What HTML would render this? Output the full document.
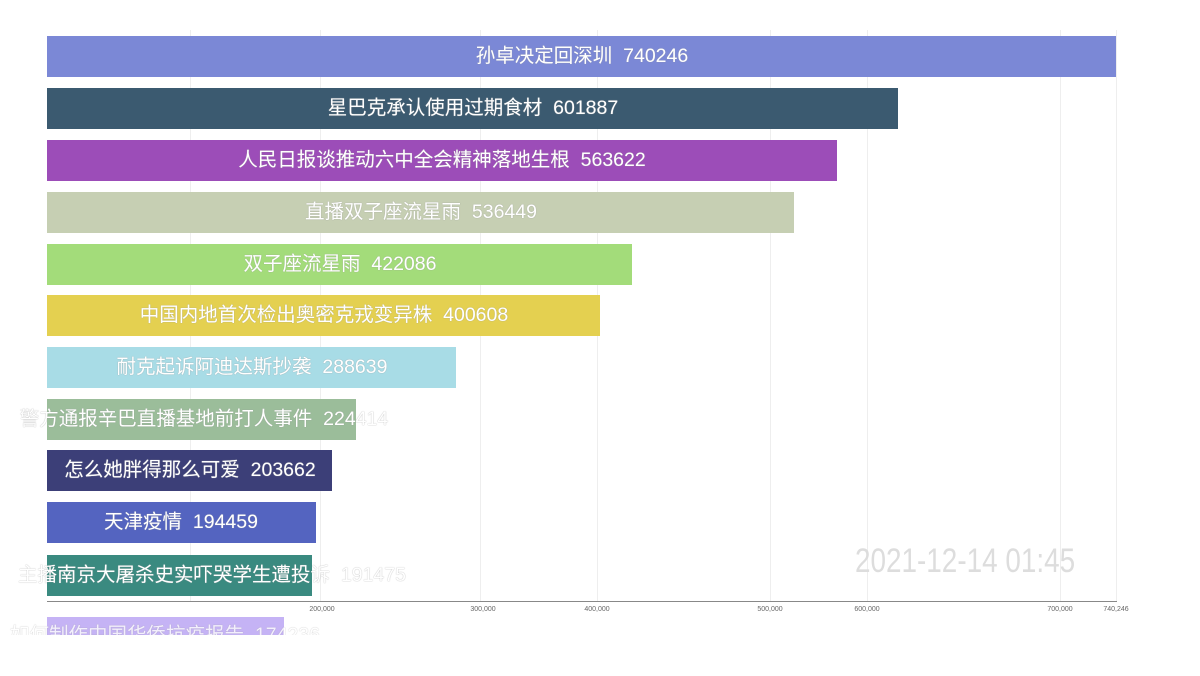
<!DOCTYPE html>
<html><head><meta charset="utf-8"><style>
body{margin:0;width:1200px;height:675px;background:#fff;overflow:hidden;position:relative;font-family:"Liberation Sans","Noto Sans CJK SC",sans-serif}
.g{position:absolute;top:30px;height:571px;width:1px;background:#eee}
.b{position:absolute;left:47px;height:41px}
.t{position:absolute;height:41px;line-height:41px;color:#fff;font-size:19.5px;white-space:nowrap;text-shadow:0 0 1px #999;transform:translateX(-50%)}
.tk{position:absolute;top:606px;font-size:7px;color:#666;transform:translateX(-50%)}
</style></head><body>
<div class="g" style="left:190px"></div><div class="g" style="left:320px"></div><div class="g" style="left:480px"></div><div class="g" style="left:597px"></div><div class="g" style="left:770px"></div><div class="g" style="left:867px"></div><div class="g" style="left:1060px"></div><div class="g" style="left:1116px"></div>
<div class="b" style="top:36px;width:1069px;background:#7b88d6"></div><div class="t" style="top:36px;left:582px">孙卓决定回深圳&nbsp;&nbsp;740246</div>
<div class="b" style="top:88px;width:851px;background:#3b5a70"></div><div class="t" style="top:88px;left:473px">星巴克承认使用过期食材&nbsp;&nbsp;601887</div>
<div class="b" style="top:140px;width:790px;background:#9c4db8"></div><div class="t" style="top:140px;left:442px">人民日报谈推动六中全会精神落地生根&nbsp;&nbsp;563622</div>
<div class="b" style="top:192px;width:747px;background:#c6cfb3"></div><div class="t" style="top:192px;left:421px">直播双子座流星雨&nbsp;&nbsp;536449</div>
<div class="b" style="top:244px;width:585px;background:#a3dc7a"></div><div class="t" style="top:244px;left:340px">双子座流星雨&nbsp;&nbsp;422086</div>
<div class="b" style="top:295px;width:553px;background:#e4d050"></div><div class="t" style="top:295px;left:324px">中国内地首次检出奥密克戎变异株&nbsp;&nbsp;400608</div>
<div class="b" style="top:347px;width:409px;background:#a8dce6"></div><div class="t" style="top:347px;left:252px">耐克起诉阿迪达斯抄袭&nbsp;&nbsp;288639</div>
<div class="b" style="top:399px;width:309px;background:#9bbd9a"></div><div class="t" style="top:399px;left:204px">警方通报辛巴直播基地前打人事件&nbsp;&nbsp;224414</div>
<div class="b" style="top:450px;width:285px;background:#3c3f78"></div><div class="t" style="top:450px;left:190px">怎么她胖得那么可爱&nbsp;&nbsp;203662</div>
<div class="b" style="top:502px;width:269px;background:#5464c0"></div><div class="t" style="top:502px;left:181px">天津疫情&nbsp;&nbsp;194459</div>
<div class="b" style="top:555px;width:265px;background:#3a8a80"></div><div class="t" style="top:555px;left:212px">主播南京大屠杀史实吓哭学生遭投诉&nbsp;&nbsp;191475</div>
<div style="position:absolute;top:603px;left:0;width:1200px;height:14px;background:#fff"></div>
<div style="position:absolute;left:47px;top:601px;width:1070px;height:1px;background:#888"></div>
<div class="b" style="top:617px;width:237px;height:18px;background:#c5b3f5;overflow:hidden"></div>
<div style="position:absolute;top:617px;left:0;width:600px;height:18px;overflow:hidden"><div class="t" style="top:-2px;left:165px;opacity:0.8">如何制作中国华侨抗疫报告&nbsp;&nbsp;174236</div></div>
<div class="tk" style="left:322px">200,000</div><div class="tk" style="left:483px">300,000</div><div class="tk" style="left:597px">400,000</div><div class="tk" style="left:770px">500,000</div><div class="tk" style="left:867px">600,000</div><div class="tk" style="left:1060px">700,000</div><div class="tk" style="left:1116px">740,246</div>
<div style="position:absolute;left:855px;top:542px;font-size:34px;color:#ddd;transform:scaleX(0.82);transform-origin:left top;white-space:nowrap">2021-12-14 01:45</div>
<div style="position:absolute;top:636px;left:0;width:1200px;height:40px;background:#fff"></div>
</body></html>
